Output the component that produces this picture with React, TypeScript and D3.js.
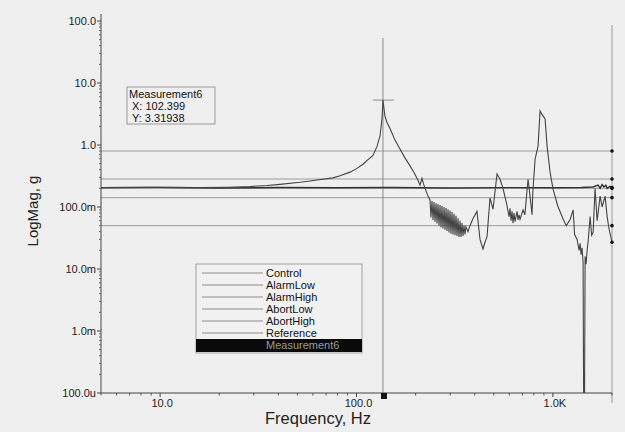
import React from "react";
import * as d3 from "d3";

// ---------- data ----------
const X_TICKS = [10, 100, 1000];
const X_TICK_LABELS = ["10.0", "100.0", "1.0K"];
const Y_TICKS = [100, 10, 1, 0.1, 0.01, 0.001, 0.0001];
const Y_TICK_LABELS = ["100.0", "10.0", "1.0", "100.0m", "10.0m", "1.0m", "100.0u"];

const LIMIT_NAMES = ["Control", "AlarmLow", "AlarmHigh", "AbortLow", "AbortHigh"];
const LIMIT_VALUES = [0.2, 0.1414, 0.2828, 0.05, 0.8];

const LEGEND_NAMES = ["Control", "AlarmLow", "AlarmHigh", "AbortLow", "AbortHigh", "Reference", "Measurement6"];

const REF_FREQ = [5, 10, 20, 40, 80, 150, 300, 600, 1000, 1400, 1600, 1700, 1740, 1780, 1820, 1860, 1890, 1950, 2000];
const REF_MAG = [0.205, 0.207, 0.203, 0.206, 0.204, 0.206, 0.203, 0.205, 0.204, 0.206, 0.21, 0.225, 0.2, 0.23, 0.21, 0.225, 0.2, 0.215, 0.205];

const MEAS_FREQ = [
  5, 8.9, 16, 22, 28.7, 35, 40.8, 51.5, 58, 62.9, 75.9, 82.4, 92.7, 100.6, 107.9, 114.4, 121.3, 127.2, 131.7, 134.8,
  136.4, 139.6, 143, 148.1, 157, 166.5, 176.5, 187.3, 196.2, 205.6, 210.6, 215.5, 219, 223.3, 231.2,
  236.7, 239.5, 242.3, 245.2, 248.1, 251.0, 254.0, 257.0, 260.0, 263.1, 266.2, 269.3, 272.5, 275.7, 279.0, 282.3,
  285.6, 289.0, 292.4, 295.8, 299.3, 302.8, 306.4, 310.0, 313.7, 317.4, 321.1, 324.9, 328.7, 332.6, 336.5, 340.5,
  344.5, 348.6, 352.7, 356.8, 361.0, 369.6, 378.4,
  392, 410.6, 425.5, 440.7, 451, 461.9, 478.4, 495.6, 519.4, 538, 557.3,
  584, 598, 605, 612.3, 619.5, 626.7, 634, 641.5, 656.9, 664.6, 672.4, 680.4, 704.8, 720, 747.3, 765,
  783.4, 790, 811.5, 840.5, 860.5, 875, 891.3, 912.5, 934.2, 967.6, 1002, 1060, 1130, 1170, 1224, 1268, 1290,
  1328, 1360, 1376, 1392, 1408, 1425, 1442, 1459, 1476, 1494, 1511, 1547, 1575, 1603, 1640, 1680, 1740, 1781,
  1845, 1889, 1930, 2000,
];
const MEAS_MAG = [
  0.205, 0.207, 0.205, 0.208, 0.214, 0.222, 0.232, 0.25, 0.262, 0.272, 0.295, 0.32, 0.365, 0.42, 0.49, 0.58, 0.68, 0.95, 1.4, 2.6,
  5.3, 2.9, 2.3, 1.85, 1.2, 0.86, 0.62, 0.46, 0.36, 0.27, 0.225, 0.29, 0.24, 0.2, 0.15,
  0.13, 0.068, 0.125, 0.062, 0.12, 0.058, 0.115, 0.054, 0.112, 0.05, 0.108, 0.047, 0.104, 0.045, 0.1, 0.043,
  0.096, 0.041, 0.092, 0.039, 0.088, 0.037, 0.083, 0.036, 0.078, 0.035, 0.072, 0.034, 0.066, 0.033, 0.06, 0.033,
  0.055, 0.034, 0.05, 0.036, 0.048, 0.04, 0.05,
  0.065, 0.085, 0.03, 0.021, 0.027, 0.033, 0.14, 0.092, 0.34, 0.28, 0.2,
  0.105, 0.07, 0.095, 0.06, 0.085, 0.055, 0.08, 0.058, 0.085, 0.062, 0.075, 0.063, 0.09, 0.075, 0.28, 0.15,
  0.075, 0.17, 0.59, 0.96, 3.55, 3.2, 2.95, 2.64, 0.96, 0.365, 0.194, 0.103, 0.063, 0.05, 0.063, 0.09, 0.036,
  0.03, 0.02, 0.026, 0.017, 0.022, 0.013, 0.000001, 0.016, 0.012, 0.02, 0.027, 0.07, 0.035, 0.039, 0.2, 0.06, 0.15, 0.1,
  0.15, 0.07, 0.045, 0.027,
];

const CURSOR_FREQ = 136.4;
const CURSOR_MAG = 5.3;
const CURSOR_TEXT = ["Measurement6", "X: 102.399", "Y: 3.31938"];

// ---------- layout ----------
const W = 625;
const H = 432;
const X0 = 101;
const X1 = 612;
const Y_BOTTOM = 393;
const Y_TOP_DOMAIN = 21;
const AXIS_TOP = 14;
const FONT = "'Liberation Sans', Arial, Helvetica, sans-serif";

export default function App() {
  const x = d3.scaleLog().domain([5, 2000]).range([X0, X1]);
  const y = d3.scaleLog().domain([1e-4, 100]).range([Y_BOTTOM, Y_TOP_DOMAIN]);

  const measPts: [number, number][] = MEAS_FREQ.map((f, i) => [x(f), y(MEAS_MAG[i])]);
  const refPts: [number, number][] = REF_FREQ.map((f, i) => [x(f), y(REF_MAG[i])]);
  const pathGen = d3.line<[number, number]>().x((d) => d[0]).y((d) => d[1]);

  const xMinor: number[] = [];
  [1, 10, 100, 1000].forEach((dec) => {
    for (let k = 2; k <= 9; k++) {
      const v = dec * k;
      if (v >= 5 && v <= 2000) xMinor.push(v);
    }
  });
  const yMinor: number[] = [];
  [1e-4, 1e-3, 1e-2, 1e-1, 1, 10].forEach((dec) => {
    for (let k = 2; k <= 9; k++) yMinor.push(dec * k);
  });

  const cx = x(CURSOR_FREQ);
  const cy = y(CURSOR_MAG);

  const dots = [...LIMIT_VALUES, MEAS_MAG[MEAS_MAG.length - 1], REF_MAG[REF_MAG.length - 1]];

  const legX = 196;
  const legY = 264;
  const legW = 166;
  const rowH = 12;

  return (
    <svg
      width={W}
      height={H}
      style={{ position: "fixed", left: 0, top: 0, display: "block" }}
      fontFamily={FONT}
    >
      <defs>
        <clipPath id="plotclip">
          <rect x={X0} y={AXIS_TOP} width={X1 - X0 + 1} height={Y_BOTTOM - AXIS_TOP} />
        </clipPath>
      </defs>
      <rect x={0} y={0} width={W} height={H} fill="#efefef" />

      {/* limit lines */}
      {LIMIT_VALUES.map((v, i) => (
        <line key={LIMIT_NAMES[i]} x1={X0} x2={X1} y1={y(v)} y2={y(v)} stroke="#9a9a9a" strokeWidth={1} />
      ))}

      {/* right vertical line */}
      <line x1={X1} x2={X1} y1={25} y2={403} stroke="#9a9a9a" strokeWidth={1} />

      {/* cursor line */}
      <line x1={cx} x2={cx} y1={38} y2={Y_BOTTOM} stroke="#8a8a8a" strokeWidth={1} />
      <line x1={cx - 10} x2={cx + 11} y1={cy} y2={cy} stroke="#8a8a8a" strokeWidth={1} />

      <g clipPath="url(#plotclip)">
        <path d={pathGen(refPts) || ""} fill="none" stroke="#333" strokeWidth={1.4} />
        <path d={pathGen(measPts) || ""} fill="none" stroke="#444" strokeWidth={1.1} />
      </g>

      {/* end dots */}
      {dots.map((v, i) => (
        <circle key={i} cx={X1} cy={y(v)} r={1.8} fill="#111" />
      ))}

      {/* axes */}
      <line x1={X0} x2={X0} y1={AXIS_TOP} y2={Y_BOTTOM} stroke="#444" strokeWidth={1} />
      <line x1={X0} x2={X1} y1={Y_BOTTOM} y2={Y_BOTTOM} stroke="#444" strokeWidth={1} />

      {Y_TICKS.map((t, i) => (
        <g key={"yt" + i}>
          <line x1={X0 - 4} x2={X0} y1={y(t)} y2={y(t)} stroke="#444" />
          <text x={X0 - 5} y={y(t)} dy="0.35em" textAnchor="end" fontSize={11} fill="#222">
            {Y_TICK_LABELS[i]}
          </text>
        </g>
      ))}
      {yMinor.map((t, i) => (
        <line key={"ym" + i} x1={X0 - 2} x2={X0} y1={y(t)} y2={y(t)} stroke="#666" />
      ))}

      {X_TICKS.map((t, i) => (
        <g key={"xt" + i}>
          <line x1={x(t)} x2={x(t)} y1={Y_BOTTOM} y2={Y_BOTTOM + 4} stroke="#444" />
          <text x={x(t) + 2} y={Y_BOTTOM + 14} textAnchor="middle" fontSize={11} fill="#222">
            {X_TICK_LABELS[i]}
          </text>
        </g>
      ))}
      {xMinor.map((t, i) => (
        <line key={"xm" + i} x1={x(t)} x2={x(t)} y1={Y_BOTTOM} y2={Y_BOTTOM + 2.5} stroke="#555" />
      ))}

      {/* cursor marker on axis */}
      <rect x={cx - 2} y={Y_BOTTOM} width={6} height={6} fill="#111" />

      {/* axis titles */}
      <text x={318} y={424} textAnchor="middle" fontSize={16.5} fill="#222">
        Frequency, Hz
      </text>
      <text
        transform={`translate(38, 211) rotate(-90)`}
        textAnchor="middle"
        fontSize={15}
        fill="#222"
      >
        LogMag, g
      </text>

      {/* cursor annotation */}
      <rect x={127} y={87} width={88} height={37} fill="#efefef" stroke="#9a9a9a" />
      {CURSOR_TEXT.map((t, i) => (
        <text key={t} x={i === 0 ? 129 : 132} y={98 + i * 12} fontSize={11} fill="#111">
          {t}
        </text>
      ))}

      {/* legend */}
      <rect x={legX} y={legY} width={legW} height={89} fill="#f1f1f1" stroke="#a0a0a0" />
      {LEGEND_NAMES.map((name, i) => {
        const cyRow = legY + 9 + i * rowH;
        const last = i === LEGEND_NAMES.length - 1;
        return (
          <g key={name}>
            {last ? (
              <rect x={legX} y={cyRow - 6} width={legW} height={13} fill="#0a0a0a" />
            ) : (
              <line x1={202} x2={263} y1={cyRow} y2={cyRow} stroke="#8a8a8a" />
            )}
            <text x={266} y={cyRow} dy="0.35em" fontSize={11} fill={last ? "#9a9a9a" : "#111"}>
              {name}
            </text>
          </g>
        );
      })}
    </svg>
  );
}
